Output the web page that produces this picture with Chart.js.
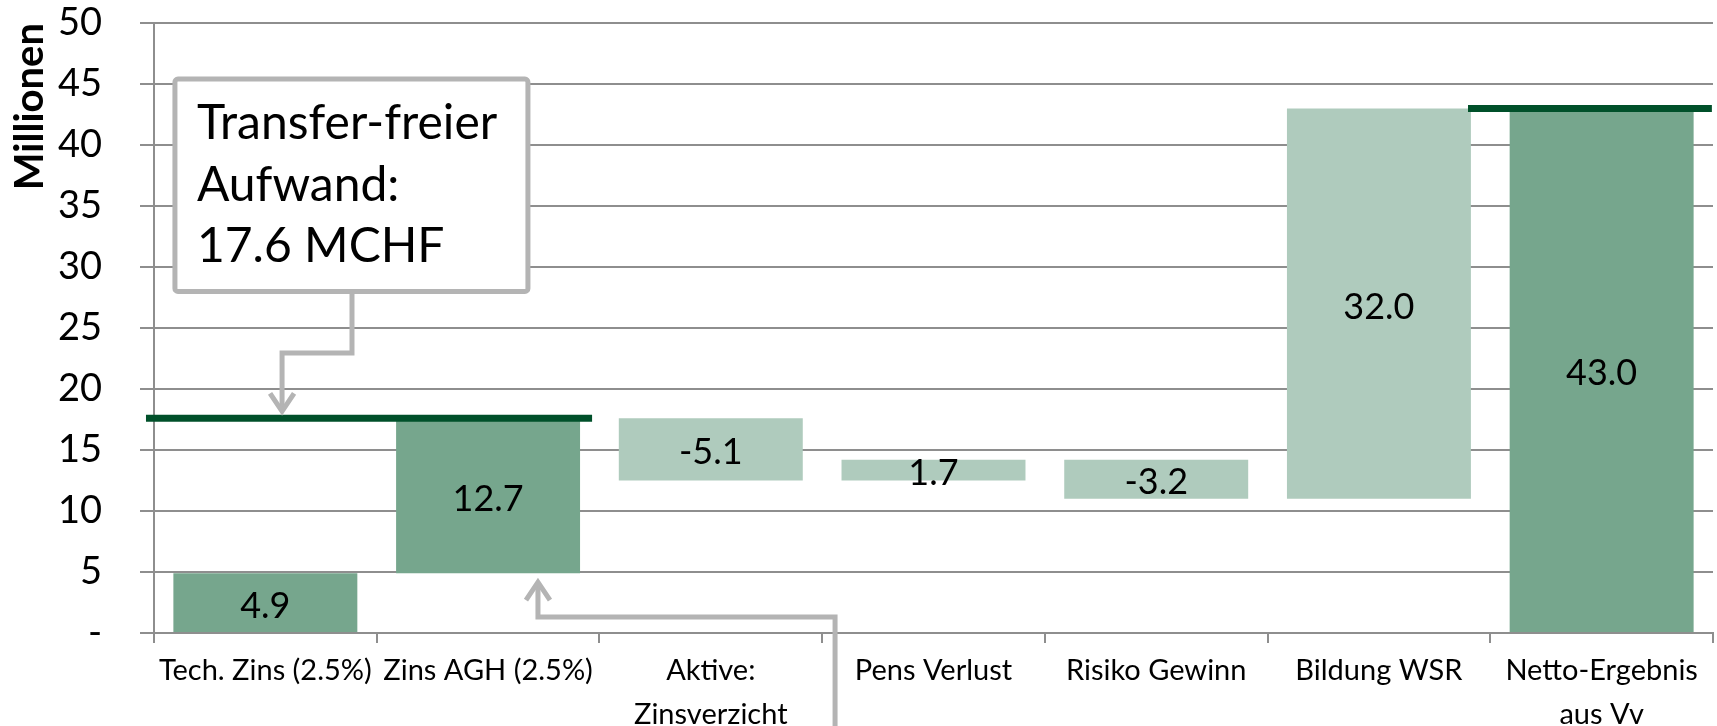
<!DOCTYPE html>
<html>
<head>
<meta charset="utf-8">
<script src="https://cdn.jsdelivr.net/npm/chart.js@4.4.1/dist/chart.umd.min.js"></script>
<style>
  html, body { margin: 0; padding: 0; background: #ffffff; }
  #wrap { width: 1717px; height: 726px; position: relative; }
</style>
</head>
<body>
<div id="wrap"><canvas id="chart"></canvas></div>
<script>
// ---- data -------------------------------------------------------------
const categories = [
  'Tech. Zins (2.5%)',
  'Zins AGH (2.5%)',
  ['Aktive:', 'Zinsverzicht'],
  'Pens Verlust',
  'Risiko Gewinn',
  'Bildung WSR',
  ['Netto-Ergebnis', 'aus Vv']
];
// change per step, in millions CHF
const changes = [4.9, 12.7, -5.1, 1.7, -3.2, 32.0, 43.0];
// role of each step: transfer-free expense parts, further effects, final total
const stepKind = ['aufwand', 'aufwand', 'effekt', 'effekt', 'effekt', 'effekt', 'total'];
const yTickValues = [0, 5, 10, 15, 20, 25, 30, 35, 40, 45, 50];
const yTickLabels = ['-', '5', '10', '15', '20', '25', '30', '35', '40', '45', '50'];
const calloutLines = ['Transfer-freier', 'Aufwand:'];
const calloutUnit = 'MCHF';

// ---- derived waterfall ranges -----------------------------------------
const round1 = v => Math.round(v * 10) / 10;
let running = 0;
const ranges = changes.map((c, i) => {
  if (stepKind[i] === 'total') return [0, c];
  const r = [round1(running), round1(running + c)];
  running = round1(running + c);
  return r;
});
const transferFrei = round1(changes.filter((c, i) => stepKind[i] === 'aufwand').reduce((a, b) => a + b, 0));
const nettoTotal = changes[stepKind.indexOf('total')];

// ---- styles ------------------------------------------------------------
const FONT = 'Lato, "Open Sans", "DejaVu Sans", sans-serif';
const kindColor = { aufwand: '#76A68D', effekt: '#AFCBBD', total: '#76A68D' };
const GRID = '#8E8E8E';
const CONNECTOR = '#B4B4B4';
const LEVEL = '#00502A';

// level lines (value from data, horizontal extent in category units)
const levelLines = [
  { value: transferFrei, from: -0.536, to: 1.467 },
  { value: nettoTotal, from: 5.40, to: 6.495 }
];

// callout box geometry (x in category units, y in axis values)
const callout = { x0: -0.406, x1: 1.179, yTop: 45.4, yBottom: 28.0, padLeft: 22, firstBaseline: 60, lineStep: 61.5, fontSize: 48 };
// elbow connectors: start point, elbow, tip
const arrowToLevel = { startX: 0.389, elbowY: 22.95, tipX: 0.075 };
const arrowToBar = { startX: 2.558, elbowY: 1.31, tipX: 1.224 };

// ---- plugins -----------------------------------------------------------
const barValueLabels = {
  id: 'barValueLabels',
  afterDatasetsDraw(chart) {
    const ctx = chart.ctx;
    const meta = chart.getDatasetMeta(0);
    ctx.save();
    ctx.font = '36px ' + FONT;
    ctx.fillStyle = '#000000';
    ctx.textAlign = 'center';
    ctx.textBaseline = 'alphabetic';
    meta.data.forEach((bar, i) => {
      const cy = (bar.y + bar.base) / 2;
      ctx.fillText(changes[i].toFixed(1), bar.x, cy + 15);
    });
    ctx.restore();
  }
};

const levelLinePlugin = {
  id: 'levelLines',
  afterDatasetsDraw(chart) {
    const { ctx, scales: { x, y } } = chart;
    ctx.save();
    ctx.strokeStyle = LEVEL;
    ctx.lineWidth = 7;
    levelLines.forEach(l => {
      const py = y.getPixelForValue(l.value);
      ctx.beginPath();
      ctx.moveTo(x.getPixelForValue(l.from), py);
      ctx.lineTo(x.getPixelForValue(l.to), py);
      ctx.stroke();
    });
    ctx.restore();
  }
};

function drawChevron(ctx, tx, ty, dir) {
  // dir: +1 arrow pointing down, -1 pointing up
  ctx.beginPath();
  ctx.moveTo(tx - 12, ty - dir * 18);
  ctx.lineTo(tx, ty);
  ctx.lineTo(tx + 12, ty - dir * 18);
  ctx.stroke();
}

const calloutPlugin = {
  id: 'callout',
  afterDraw(chart) {
    const { ctx, scales: { x, y } } = chart;
    ctx.save();
    ctx.strokeStyle = CONNECTOR;
    ctx.lineWidth = 5;
    ctx.lineJoin = 'miter';
    ctx.lineCap = 'butt';

    // connector from callout down to the transfer-free level
    const boxBottom = y.getPixelForValue(callout.yBottom);
    const a1x = x.getPixelForValue(arrowToLevel.startX);
    const a1e = y.getPixelForValue(arrowToLevel.elbowY);
    const a1t = x.getPixelForValue(arrowToLevel.tipX);
    const a1tipY = y.getPixelForValue(transferFrei) - 7;
    ctx.beginPath();
    ctx.moveTo(a1x, boxBottom);
    ctx.lineTo(a1x, a1e);
    ctx.lineTo(a1t, a1e);
    ctx.lineTo(a1t, a1tipY - 2);
    ctx.stroke();
    drawChevron(ctx, a1t, a1tipY, 1);

    // connector from below the axis up to the second bar
    const a2x = x.getPixelForValue(arrowToBar.startX);
    const a2e = y.getPixelForValue(arrowToBar.elbowY);
    const a2t = x.getPixelForValue(arrowToBar.tipX);
    const a2tipY = y.getPixelForValue(ranges[1][0]) + 9;
    ctx.beginPath();
    ctx.moveTo(a2x, chart.height + 5);
    ctx.lineTo(a2x, a2e);
    ctx.lineTo(a2t, a2e);
    ctx.lineTo(a2t, a2tipY + 2);
    ctx.stroke();
    drawChevron(ctx, a2t, a2tipY, -1);

    // callout box
    const bx0 = x.getPixelForValue(callout.x0);
    const bx1 = x.getPixelForValue(callout.x1);
    const by0 = y.getPixelForValue(callout.yTop);
    const by1 = boxBottom;
    const r = 3;
    ctx.beginPath();
    ctx.moveTo(bx0 + r, by0);
    ctx.arcTo(bx1, by0, bx1, by1, r);
    ctx.arcTo(bx1, by1, bx0, by1, r);
    ctx.arcTo(bx0, by1, bx0, by0, r);
    ctx.arcTo(bx0, by0, bx1, by0, r);
    ctx.closePath();
    ctx.fillStyle = '#ffffff';
    ctx.fill();
    ctx.stroke();

    ctx.fillStyle = '#000000';
    ctx.font = callout.fontSize + 'px ' + FONT;
    ctx.textAlign = 'left';
    ctx.textBaseline = 'alphabetic';
    const lines = calloutLines.concat([transferFrei.toFixed(1) + ' ' + calloutUnit]);
    lines.forEach((t, i) => {
      ctx.fillText(t, bx0 + callout.padLeft, by0 + callout.firstBaseline + i * callout.lineStep);
    });
    ctx.restore();
  }
};

// ---- chart -------------------------------------------------------------
function build() {
  const ctx = document.getElementById('chart');
  new Chart(ctx, {
    type: 'bar',
    data: {
      labels: categories,
      datasets: [{
        data: ranges,
        backgroundColor: stepKind.map(k => kindColor[k]),
        borderWidth: 0,
        categoryPercentage: 1.0,
        barPercentage: 0.826
      }]
    },
    options: {
      responsive: true,
      maintainAspectRatio: false,
      animation: false,
      devicePixelRatio: 1,
      layout: { padding: { top: 23, right: 4, left: 0, bottom: 0 } },
      plugins: {
        legend: { display: false },
        tooltip: { enabled: false }
      },
      scales: {
        x: {
          grid: {
            display: true,
            drawOnChartArea: false,
            drawTicks: true,
            tickLength: 10,
            offset: true,
            color: GRID,
            lineWidth: 2
          },
          border: { display: true, color: GRID, width: 2 },
          ticks: {
            color: '#000000',
            font: { family: FONT, size: 29, lineHeight: 1.52 },
            padding: 6,
            maxRotation: 0,
            minRotation: 0,
            autoSkip: false
          },
          afterFit(scale) { scale.height = 93; }
        },
        y: {
          min: 0,
          max: 50,
          afterBuildTicks(scale) { scale.ticks = yTickValues.map(v => ({ value: v })); },
          grid: {
            color: GRID,
            lineWidth: 2,
            drawTicks: true,
            tickLength: 14
          },
          border: { display: true, color: GRID, width: 2 },
          ticks: {
            color: '#000000',
            font: { family: FONT, size: 38 },
            padding: 38,
            callback: (v, i) => yTickLabels[i]
          },
          title: {
            display: true,
            text: 'Millionen',
            align: 'end',
            color: '#000000',
            font: { family: FONT, size: 40, weight: 'bold' },
            padding: { top: 6, bottom: 0 }
          },
          afterFit(scale) {
            scale.width = 154;
            scale.paddingTop = 0;
            scale.paddingBottom = 0;
          }
        }
      }
    },
    plugins: [levelLinePlugin, barValueLabels, calloutPlugin]
  });
}

const fontLoads = [
  '36px Lato', 'bold 40px Lato', '29px Lato'
].map(f => (document.fonts && document.fonts.load) ? document.fonts.load(f) : Promise.resolve());
Promise.all(fontLoads).then(build, build);
</script>
</body>
</html>
